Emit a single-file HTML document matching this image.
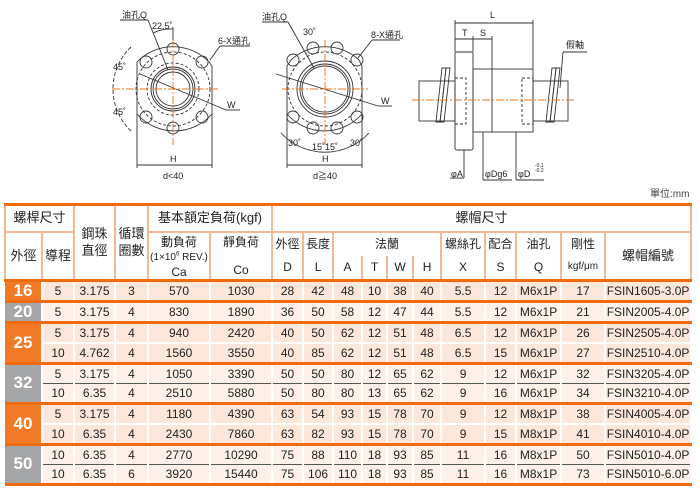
<!DOCTYPE html>
<html><head><meta charset="utf-8">
<style>
body{margin:0;width:700px;height:492px;background:#fff;position:relative;overflow:hidden;font-family:"Liberation Sans","Noto Sans CJK TC",sans-serif;}
svg{position:absolute;left:0;top:0}
table{position:absolute;left:4px;top:203px;border-collapse:collapse;table-layout:fixed;width:686px;font-size:12px;color:#222}
td{text-align:center;padding:0;overflow:hidden;white-space:nowrap;line-height:14px}
.h td{background:#fff;border-left:2px solid #f6b894;border-right:2px solid #f6b894;font-size:12px}
.d td{background:#fde7da;border-left:2px solid #fff;border-right:2px solid #fff;height:18px;line-height:18px}
.d.l td{background:#fff1e9}
td.o{background:#f27a26 !important;color:#fff;font-weight:bold;font-size:17px;border:none}
td.g{background:#a5a6a8 !important;color:#fff;font-weight:bold;font-size:17px;border:none}
tr.ot td{border-top:3px solid #f06a10}
tr.kt td{border-top:1px solid #555}
tr.wt td{border-top:2px solid #fff}
tr.kt td, tr.wt td{height:18px}
</style></head><body>
<svg width="700" height="200" font-family="Liberation Sans, Noto Sans CJK TC, sans-serif" font-size="9">
<g stroke="#333" fill="none" stroke-width="0.9">
<path d="M137,62 A50,50 0 0 1 209,62 L212,66 L212,114 A50,50 0 0 1 137,114 Z"/>
<circle cx="173" cy="89" r="37" stroke-dasharray="3,2"/>
<circle cx="173" cy="89" r="26" stroke-dasharray="3,2"/>
<circle cx="173" cy="89" r="22"/><circle cx="173" cy="89" r="20"/><circle cx="173" cy="89" r="17"/>
<circle cx="173" cy="49" r="6"/><circle cx="146" cy="62" r="6"/><circle cx="202" cy="62" r="6"/>
<circle cx="146" cy="117" r="6"/><circle cx="202" cy="117" r="6"/><circle cx="173" cy="128" r="6"/>
<line x1="137" y1="114" x2="137" y2="168"/><line x1="212" y1="114" x2="212" y2="168"/>
<line x1="137" y1="165" x2="212" y2="165"/>
<line x1="140" y1="74" x2="226" y2="110"/><line x1="226" y1="110" x2="240" y2="110"/>
<path d="M131,47 A58,58 0 0 0 131,131" stroke-dasharray="4,2"/>
<line x1="148" y1="20" x2="168" y2="70"/><line x1="120" y1="20" x2="148" y2="20"/>
<line x1="210" y1="60" x2="220" y2="46"/><line x1="220" y1="46" x2="250" y2="46"/>
<path d="M153,33 A40,40 0 0 1 173,29"/><line x1="173" y1="27" x2="173" y2="40"/>
<path d="M291,60 A50,50 0 0 1 359,60 L362,66 L362,114 A50,50 0 0 1 287,114 L287,66 Z"/>
<circle cx="325" cy="89" r="37" stroke-dasharray="3,2"/>
<circle cx="325" cy="89" r="28"/><circle cx="325" cy="89" r="25"/><circle cx="325" cy="89" r="23"/>
<circle cx="293" cy="60" r="6"/><circle cx="313" cy="48" r="6"/><circle cx="337" cy="48" r="6"/><circle cx="357" cy="60" r="6"/>
<circle cx="293" cy="117" r="6"/><circle cx="313" cy="128" r="6"/><circle cx="337" cy="128" r="6"/><circle cx="357" cy="117" r="6"/>
<line x1="287" y1="114" x2="287" y2="168"/><line x1="362" y1="114" x2="362" y2="168"/>
<line x1="287" y1="165" x2="362" y2="165"/>
<line x1="276" y1="74" x2="378" y2="106"/><line x1="378" y1="106" x2="392" y2="106"/>
<path d="M281,133 A60,60 0 0 0 369,133"/>
<line x1="288" y1="22" x2="314" y2="68"/><line x1="262" y1="22" x2="288" y2="22"/>
<line x1="358" y1="58" x2="372" y2="40"/><line x1="372" y1="40" x2="400" y2="40"/>
<rect x="455" y="52" width="18" height="98" rx="2"/>
<rect x="473" y="69" width="60" height="63"/><line x1="492" y1="69" x2="492" y2="132"/>
<rect x="419" y="81" width="36" height="40"/><rect x="533" y="81" width="35" height="40"/>
<rect x="455" y="78" width="11" height="46" stroke-dasharray="3,2"/><rect x="522" y="78" width="11" height="46" stroke-dasharray="3,2"/>
<path d="M436,122 L442,68 L446,68 L440,122 Z"/><path d="M440,122 L446,68 L450,68 L444,122 Z"/>
<path d="M546,122 L552,68 L556,68 L550,122 Z"/><path d="M550,122 L556,68 L560,68 L554,122 Z"/>
<line x1="455" y1="20" x2="455" y2="52"/><line x1="533" y1="20" x2="533" y2="69"/><line x1="455" y1="23" x2="533" y2="23"/>
<line x1="492" y1="36" x2="492" y2="69"/><line x1="473" y1="36" x2="473" y2="52"/><line x1="455" y1="39" x2="492" y2="39"/>
<line x1="563" y1="52" x2="587" y2="52"/><line x1="563" y1="52" x2="560" y2="88"/>
<line x1="464" y1="150" x2="464" y2="178"/><line x1="450" y1="178" x2="464" y2="178"/>
<line x1="483" y1="132" x2="483" y2="180"/><line x1="483" y1="180" x2="512" y2="180"/>
<line x1="516" y1="132" x2="516" y2="180"/><line x1="516" y1="180" x2="544" y2="180"/>
</g>
<g stroke="#f07020" stroke-width="0.9" stroke-dasharray="8,2,2,2" fill="none">
<line x1="112" y1="89" x2="218" y2="89"/><line x1="173" y1="40" x2="173" y2="145"/>
<line x1="282" y1="89" x2="368" y2="89"/><line x1="325" y1="40" x2="325" y2="145"/>
<line x1="412" y1="100" x2="575" y2="100"/>
</g>
<g fill="#222">
<text x="122" y="18">油孔Q</text><text x="152" y="29">22.5˚</text><text x="218" y="44">6-X通孔</text>
<text x="113" y="70">45˚</text><text x="113" y="115">45˚</text><text x="227" y="108">W</text>
<text x="170" y="162">H</text><text x="163" y="179">d&lt;40</text>
<text x="262" y="20">油孔Q</text><text x="303" y="35">30˚</text><text x="371" y="38">8-X通孔</text>
<text x="381" y="104">W</text><text x="288" y="146">30˚</text><text x="312" y="150">15˚15˚</text><text x="350" y="146">30˚</text>
<text x="322" y="162">H</text><text x="313" y="179">d≧40</text>
<text x="490" y="18">L</text><text x="462" y="36">T</text><text x="480" y="36">S</text><text x="566" y="48">假軸</text>
<text x="451" y="177">φA</text><text x="485" y="177">φDg6</text><text x="518" y="177">φD</text>
<text x="535" y="167" font-size="5">-0.1</text><text x="535" y="172" font-size="5">-0.2</text>
<text x="650" y="197" font-size="10" fill="#444">單位:mm</text>
</g>
</svg>
<table>
<colgroup><col style="width:37px"><col style="width:32px"><col style="width:41px"><col style="width:33px"><col style="width:62px"><col style="width:62px"><col style="width:31px"><col style="width:30px"><col style="width:29px"><col style="width:25px"><col style="width:26px"><col style="width:28px"><col style="width:44px"><col style="width:31px"><col style="width:45px"><col style="width:44px"><col style="width:86px"></colgroup>
<tr class="h" style="height:27px"><td colspan="2" style="border-top:3px solid #f06a10;border-bottom:2px solid #f6b894;font-size:13px">螺桿尺寸</td><td rowspan="3" style="border-top:3px solid #f06a10;font-size:13px;line-height:17px">鋼珠<br>直徑</td><td rowspan="3" style="border-top:3px solid #f06a10;font-size:13px;line-height:17px">循環<br>圈數</td><td colspan="2" style="border-top:3px solid #f06a10;border-bottom:2px solid #f6b894;font-size:13px">基本額定負荷(kgf)</td><td colspan="11" style="border-top:3px solid #f06a10;border-bottom:2px solid #f6b894;font-size:13px">螺帽尺寸</td></tr>
<tr class="h" style="height:22px"><td rowspan="2" style="font-size:13px">外徑</td><td rowspan="2" style="font-size:13px">導程</td><td rowspan="2" style="vertical-align:top;line-height:14px;padding-top:2px">動負荷<br><span style="font-size:10px">(1×10<sup style="font-size:6px;line-height:0">6</sup> REV.)</span><br>Ca</td><td rowspan="2" style="vertical-align:top;line-height:14px;padding-top:2px">靜負荷<br><br>Co</td><td>外徑</td><td>長度</td><td colspan="4">法蘭</td><td>螺絲孔</td><td>配合</td><td>油孔</td><td>剛性</td><td rowspan="2" style="font-size:13px">螺帽編號</td></tr>
<tr class="h" style="height:22px"><td>D</td><td>L</td><td>A</td><td>T</td><td>W</td><td>H</td><td>X</td><td>S</td><td>Q</td><td style="font-size:10px">kgf/μm</td></tr>
<tr class="d ot"><td class="o">16</td><td>5</td><td>3.175</td><td>3</td><td>570</td><td>1030</td><td>28</td><td>42</td><td>48</td><td>10</td><td>38</td><td>40</td><td>5.5</td><td>12</td><td>M6x1P</td><td>17</td><td>FSIN1605-3.0P</td></tr>
<tr class="d l ot"><td class="g">20</td><td>5</td><td>3.175</td><td>4</td><td>830</td><td>1890</td><td>36</td><td>50</td><td>58</td><td>12</td><td>47</td><td>44</td><td>5.5</td><td>12</td><td>M6x1P</td><td>21</td><td>FSIN2005-4.0P</td></tr>
<tr class="d ot"><td class="o" rowspan="2">25</td><td>5</td><td>3.175</td><td>4</td><td>940</td><td>2420</td><td>40</td><td>50</td><td>62</td><td>12</td><td>51</td><td>48</td><td>6.5</td><td>12</td><td>M6x1P</td><td>26</td><td>FSIN2505-4.0P</td></tr>
<tr class="d wt"><td>10</td><td>4.762</td><td>4</td><td>1560</td><td>3550</td><td>40</td><td>85</td><td>62</td><td>12</td><td>51</td><td>48</td><td>6.5</td><td>15</td><td>M6x1P</td><td>27</td><td>FSIN2510-4.0P</td></tr>
<tr class="d l ot"><td class="g" rowspan="2">32</td><td>5</td><td>3.175</td><td>4</td><td>1050</td><td>3390</td><td>50</td><td>50</td><td>80</td><td>12</td><td>65</td><td>62</td><td>9</td><td>12</td><td>M6x1P</td><td>32</td><td>FSIN3205-4.0P</td></tr>
<tr class="d l kt"><td>10</td><td>6.35</td><td>4</td><td>2510</td><td>5880</td><td>50</td><td>80</td><td>80</td><td>13</td><td>65</td><td>62</td><td>9</td><td>16</td><td>M6x1P</td><td>34</td><td>FSIN3210-4.0P</td></tr>
<tr class="d ot"><td class="o" rowspan="2">40</td><td>5</td><td>3.175</td><td>4</td><td>1180</td><td>4390</td><td>63</td><td>54</td><td>93</td><td>15</td><td>78</td><td>70</td><td>9</td><td>12</td><td>M8x1P</td><td>38</td><td>FSIN4005-4.0P</td></tr>
<tr class="d wt"><td>10</td><td>6.35</td><td>4</td><td>2430</td><td>7860</td><td>63</td><td>82</td><td>93</td><td>15</td><td>78</td><td>70</td><td>9</td><td>15</td><td>M8x1P</td><td>41</td><td>FSIN4010-4.0P</td></tr>
<tr class="d l ot"><td class="g" rowspan="2">50</td><td>10</td><td>6.35</td><td>4</td><td>2770</td><td>10290</td><td>75</td><td>88</td><td>110</td><td>18</td><td>93</td><td>85</td><td>11</td><td>16</td><td>M8x1P</td><td>50</td><td>FSIN5010-4.0P</td></tr>
<tr class="d l kt" style="border-bottom:3px solid #f06a10"><td>10</td><td>6.35</td><td>6</td><td>3920</td><td>15440</td><td>75</td><td>106</td><td>110</td><td>18</td><td>93</td><td>85</td><td>11</td><td>16</td><td>M8x1P</td><td>73</td><td>FSIN5010-6.0P</td></tr>
</table>
</body></html>
